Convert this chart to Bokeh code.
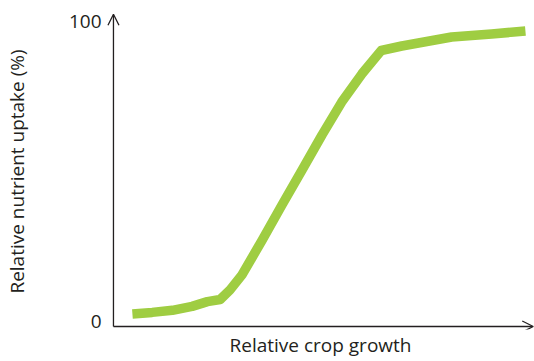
from bokeh.plotting import figure
from bokeh.models import Range1d, FixedTicker, Arrow, OpenHead
from bokeh.embed import file_html
from bokeh.resources import INLINE

# Data (relative units)
growth = [4.6, 9.4, 14.3, 19.1, 22.8, 25.9, 28.3, 31.2, 36.1, 40.9, 45.8, 50.6, 55.4, 60.3, 65.0, 70.0, 82.1, 91.8, 100.0]
uptake = [2.7, 3.2, 3.9, 5.2, 6.8, 7.5, 10.7, 15.7, 27.3, 39.0, 50.7, 62.3, 73.3, 82.7, 90.5, 92.0, 95.0, 96.0, 97.0]
y_ticks = [0, 100]
x_label = "Relative crop growth"
y_label = "Relative nutrient uptake (%)"

FONT = "Open Sans"
TXT = "#231f20"

x0, x1 = -1.69, 102.2
y0, y1 = -2.5, 102.83
ax_x, ax_y = 0.0, -1.5
tip_x, tip_y = 101.9, 102.6

p = figure(width=534, height=361, output_backend="svg", toolbar_location=None,
           x_range=Range1d(x0, x1), y_range=Range1d(y0, y1),
           min_border_left=104, min_border_right=0, min_border_top=13, min_border_bottom=32)
p.outline_line_color = None
p.grid.visible = False
p.background_fill_color = "white"
p.border_fill_color = "white"

p.line(growth, uptake, line_color="#9fcd42", line_width=9.5, line_join="round")

for ax in (p.xaxis[0], p.yaxis[0]):
    ax.axis_line_color = None
    ax.major_tick_line_color = None
    ax.minor_tick_line_color = None
    ax.major_tick_out = 0
    ax.major_tick_in = 0
    ax.minor_tick_out = 0
    ax.minor_tick_in = 0
    ax.axis_label_text_font = FONT
    ax.axis_label_text_font_style = "normal"
    ax.axis_label_text_font_size = "19px"
    ax.axis_label_text_color = TXT

p.xaxis.ticker = FixedTicker(ticks=[])
p.xaxis.major_label_text_font_size = "0px"
p.xaxis.major_label_standoff = 0
p.xaxis.axis_label = x_label
p.xaxis.axis_label_standoff = 2

p.yaxis.ticker = FixedTicker(ticks=y_ticks)
p.yaxis.major_label_text_font = FONT
p.yaxis.major_label_text_font_size = "19px"
p.yaxis.major_label_text_color = TXT
p.yaxis.major_label_standoff = 5
p.yaxis.axis_label = y_label
p.yaxis.axis_label_standoff = 36

head = dict(size=11, line_width=1.3, line_color=TXT)
p.add_layout(Arrow(end=OpenHead(**head), x_start=ax_x, x_end=ax_x, y_start=ax_y, y_end=tip_y,
                   line_color=TXT, line_width=1.3))
p.add_layout(Arrow(end=OpenHead(**head), x_start=ax_x, x_end=tip_x, y_start=ax_y, y_end=ax_y,
                   line_color=TXT, line_width=1.3))

open("out.html", "w").write(file_html(p, INLINE))
